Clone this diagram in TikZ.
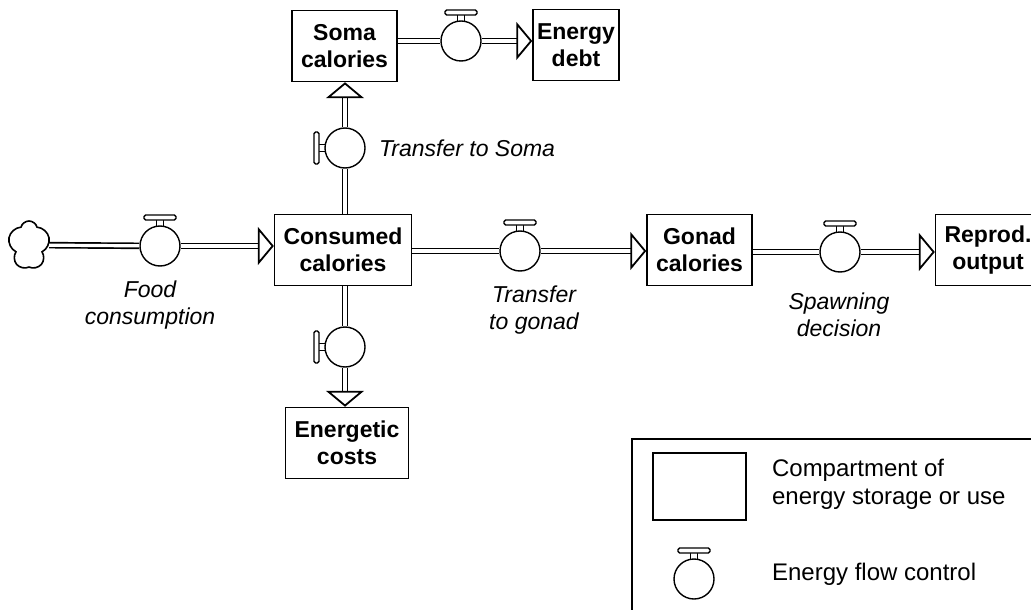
\documentclass[tikz,border=0pt]{standalone}
\usepackage{fontspec}
\setmainfont{Liberation Sans}
\usetikzlibrary{arrows.meta,shapes.symbols,positioning}

\tikzset{
  comp/.style={draw, line width=0.75pt, align=center, inner xsep=4.5pt,
    minimum height=35.5pt, font=\bfseries\fontsize{11.5}{13.5}\selectfont},
  valve/.style={draw, circle, line width=0.7pt, minimum size=20pt, inner sep=0pt, fill=white},
  pipe/.style={double, double distance=1.6pt, line width=0.85pt},
  flow/.style={pipe, -{Triangle[open, length=8pt, width=19pt, line width'=0.9pt]}},
  lbl/.style={align=center, font=\itshape\fontsize{11.5}{13.5}\selectfont},
  lgd/.style={anchor=west, align=left, font=\fontsize{12}{14}\selectfont},
}

% handle of a flow control, #2 = 0 on top, 90 on the left
\newcommand{\vhandle}[2]{%
  \begin{scope}[shift={(#1.center)}, rotate=#2]
    \draw[line width=0.7pt] (-3.5,-20) -- (-3.5,-26) (3.5,-20) -- (3.5,-26);
    \draw[line width=0.7pt, fill=white, rounded corners=0.8pt] (-16,-26) rectangle (16,-31);
  \end{scope}}

\begin{document}
\begin{tikzpicture}[x=0.5pt, y=-0.5pt]
  \useasboundingbox (0,0) rectangle (1031,609);

  % compartments
  \node[comp] (soma) at (344.5,46) {Soma\\calories};
  \node[comp, inner xsep=2pt] (debt) at (576,45) {Energy\\debt};
  \node[comp] (cons) at (343,250) {Consumed\\calories};
  \node[comp] (gonad) at (699.5,250) {Gonad\\calories};
  \node[comp] (repr) at (988,250) {Reprod.\\output};
  \node[comp] (cost) at (347,443) {Energetic\\costs};
  \node[cloud, draw, line width=0.8pt, cloud puffs=5, aspect=0.9,
    minimum width=21pt, minimum height=24pt, inner sep=0pt] (src) at (29,245) {};

  % flow controls
  \node[valve] (v1) at (160,246) {};
  \node[valve] (v2) at (345,148) {};
  \node[valve] (v3) at (345,347) {};
  \node[valve] (v4) at (520,251) {};
  \node[valve] (v5) at (840,252) {};
  \node[valve] (v6) at (461,41) {};
  \vhandle{v1}{0}
  \vhandle{v2}{90}
  \vhandle{v3}{90}
  \vhandle{v4}{0}
  \vhandle{v5}{0}
  \vhandle{v6}{0}

  % flows
  \draw[pipe] (src) -- (v1);
  \draw[flow] (v1) -- (cons.west |- v1);
  \draw[pipe] (cons.north -| v2) -- (v2);
  \draw[flow] (v2) -- (soma.south -| v2);
  \draw[pipe] (soma.east |- v6) -- (v6);
  \draw[flow] (v6) -- (debt.west |- v6);
  \draw[pipe] (cons.south -| v3) -- (v3);
  \draw[flow] (v3) -- (cost.north -| v3);
  \draw[pipe] (cons.east |- v4) -- (v4);
  \draw[flow] (v4) -- (gonad.west |- v4);
  \draw[pipe] (gonad.east |- v5) -- (v5);
  \draw[flow] (v5) -- (repr.west |- v5);

  \node[lbl] (food) at (150,305) {Food\\consumption};
  \node[lbl, anchor=west] (tsoma) at (372,148) {Transfer to Soma};
  \node[lbl] (tgonad) at (534,310) {Transfer\\to gonad};
  \node[lbl] (spawn) at (839,315) {Spawning\\decision};

  % legend
  \begin{scope}
    \draw[line width=0.75pt] (632,439) rectangle (1045,625);
    \node[draw, line width=0.75pt, minimum width=46.5pt, minimum height=33.5pt] (lgbox) at (699.5,486.5) {};
    \node[lgd] (lgcomp) at (765,484) {Compartment of\\energy storage or use};
    \node[valve] (lgv) at (694,579) {};
    \vhandle{lgv}{0}
    \node[lgd] (lgflow) at (765,574) {Energy flow control};
  \end{scope}
\end{tikzpicture}
\end{document}
